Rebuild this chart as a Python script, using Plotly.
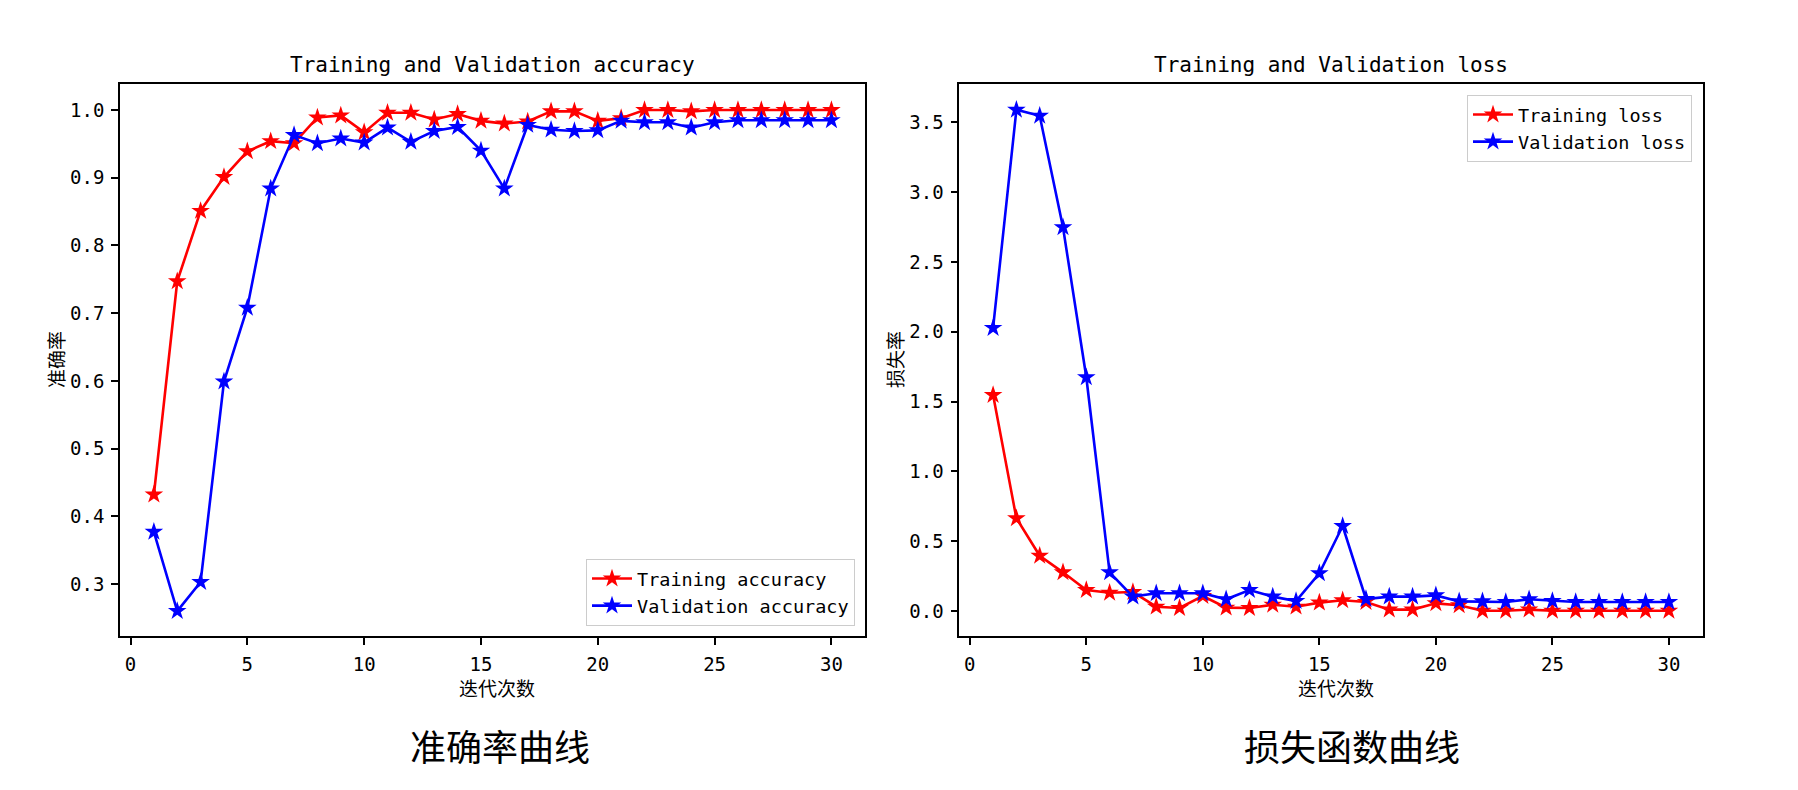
import plotly.graph_objects as go

epochs = list(range(1, 31))

train_acc = [0.432, 0.747, 0.851, 0.901, 0.939, 0.954, 0.951, 0.989, 0.992, 0.967,
             0.996, 0.996, 0.986, 0.994, 0.984, 0.980, 0.983, 0.998, 0.998, 0.984,
             0.988, 1.000, 1.000, 0.998, 1.000, 1.000, 1.000, 1.000, 1.000, 1.000]
val_acc = [0.377, 0.260, 0.303, 0.599, 0.708, 0.884, 0.963, 0.951, 0.958, 0.952,
           0.974, 0.953, 0.969, 0.975, 0.940, 0.884, 0.978, 0.971, 0.969, 0.970,
           0.984, 0.982, 0.982, 0.974, 0.982, 0.985, 0.985, 0.985, 0.985, 0.985]
train_loss = [1.547, 0.664, 0.396, 0.277, 0.150, 0.131, 0.136, 0.031, 0.022, 0.107,
              0.024, 0.022, 0.045, 0.031, 0.060, 0.077, 0.065, 0.010, 0.010, 0.055,
              0.041, 0.002, 0.002, 0.010, 0.002, 0.002, 0.002, 0.002, 0.002, 0.002]
val_loss = [2.027, 3.589, 3.546, 2.748, 1.674, 0.277, 0.103, 0.127, 0.127, 0.127,
            0.084, 0.150, 0.103, 0.072, 0.270, 0.609, 0.086, 0.103, 0.103, 0.112,
            0.069, 0.069, 0.065, 0.084, 0.072, 0.065, 0.065, 0.065, 0.065, 0.065]

acc_ticks = [0.3, 0.4, 0.5, 0.6, 0.7, 0.8, 0.9, 1.0]
loss_ticks = [0.0, 0.5, 1.0, 1.5, 2.0, 2.5, 3.0, 3.5]
x_ticks = [0, 5, 10, 15, 20, 25, 30]

OFF = 8  # default page body margin
W, H = 1798 - OFF, 790 - OFF
MONO = "DejaVu Sans Mono"
CJK = "Noto Sans CJK SC"

# axes boxes in screen pixels
L1, R1 = 120, 865.3
L2, R2 = 959.3, 1702.7
TOP, BOT = 83.7, 636.3

def px(x):
    return (x - OFF) / W

def py(y):
    return (H - (y - OFF)) / H

fig = go.Figure()

def add(x, y, name, color, xa, ya, legend):
    fig.add_trace(go.Scatter(
        x=x, y=y, name=name, mode="lines+markers",
        line=dict(color=color, width=2.6),
        marker=dict(symbol="star", size=14, color=color),
        xaxis=xa, yaxis=ya, legend=legend))

add(epochs, train_acc, "Training accuracy", "#ff0000", "x", "y", "legend")
add(epochs, val_acc, "Validation accuracy", "#0000ff", "x", "y", "legend")
add(epochs, train_loss, "Training loss", "#ff0000", "x2", "y2", "legend2")
add(epochs, val_loss, "Validation loss", "#0000ff", "x2", "y2", "legend2")

axis_common = dict(showline=True, linecolor="black", linewidth=1.6, mirror=True,
                   ticks="outside", ticklen=7, tickwidth=1.5, tickcolor="black",
                   showgrid=False, zeroline=False,
                   tickfont=dict(family=MONO, size=19, color="black"),
                   ticklabelstandoff=3)

fig.update_layout(
    width=W, height=H, autosize=False,
    margin=dict(l=0, r=0, t=0, b=0),
    paper_bgcolor="white", plot_bgcolor="white",
    showlegend=True,
    xaxis=dict(domain=[px(L1), px(R1)], range=[-0.45, 31.45], tickvals=x_ticks,
               anchor="y", **axis_common),
    yaxis=dict(domain=[py(BOT), py(TOP)], range=[0.2228, 1.0389], tickvals=acc_ticks,
               ticktext=[f"{v:.1f}" for v in acc_ticks], anchor="x", **axis_common),
    xaxis2=dict(domain=[px(L2), px(R2)], range=[-0.45, 31.45], tickvals=x_ticks,
                anchor="y2", **axis_common),
    yaxis2=dict(domain=[py(BOT), py(TOP)], range=[-0.181, 3.776], tickvals=loss_ticks,
                ticktext=[f"{v:.1f}" for v in loss_ticks], anchor="x2", **axis_common),
    legend=dict(x=px(855), y=py(626), xanchor="right", yanchor="bottom",
                bgcolor="white", bordercolor="#cccccc", borderwidth=1,
                font=dict(family=MONO, size=18.5, color="black"),
                tracegroupgap=2, itemwidth=40),
    legend2=dict(x=px(1692), y=py(95), xanchor="right", yanchor="top",
                 bgcolor="white", bordercolor="#cccccc", borderwidth=1,
                 font=dict(family=MONO, size=18.5, color="black"),
                 tracegroupgap=2, itemwidth=40),
)

annots = [
    dict(text="Training and Validation accuracy", x=px((L1 + R1) / 2), y=py(TOP - 5),
         yanchor="bottom", font=dict(family=MONO, size=21, color="black")),
    dict(text="Training and Validation loss", x=px((L2 + R2) / 2), y=py(TOP - 5),
         yanchor="bottom", font=dict(family=MONO, size=21, color="black")),
    dict(text="迭代次数", x=px(497), y=py(687), yanchor="middle",
         font=dict(family=CJK, size=19, color="black")),
    dict(text="迭代次数", x=px(1336), y=py(687), yanchor="middle",
         font=dict(family=CJK, size=19, color="black")),
    dict(text="准确率", x=px(55), y=py((TOP + BOT) / 2), textangle=-90,
         font=dict(family=CJK, size=19, color="black")),
    dict(text="损失率", x=px(894), y=py((TOP + BOT) / 2), textangle=-90,
         font=dict(family=CJK, size=19, color="black")),
    dict(text="准确率曲线", x=px(500), y=py(745), yanchor="middle",
         font=dict(family=CJK, size=36, color="black")),
    dict(text="损失函数曲线", x=px(1352), y=py(745), yanchor="middle",
         font=dict(family=CJK, size=36, color="black")),
]
for a in annots:
    a.update(xref="paper", yref="paper", showarrow=False, xanchor=a.get("xanchor", "center"))
    fig.add_annotation(**a)

fig.write_html("out.html")
